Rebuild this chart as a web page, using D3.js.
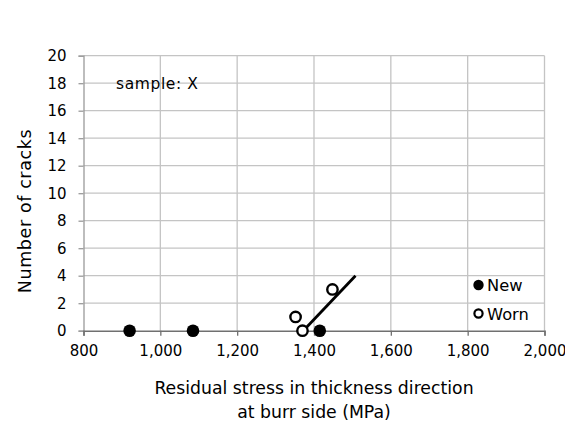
<!DOCTYPE html>
<html>
<head>
<meta charset="utf-8">
<script src="https://cdn.jsdelivr.net/npm/d3@7"></script>
<style>
  html, body { margin: 0; padding: 0; background: #fff; }
  svg { display: block; font-family: "DejaVu Sans", Verdana, sans-serif; }
</style>
</head>
<body>
<svg id="chart" width="565" height="422"></svg>
<script>
// Crack count against residual stress (thickness direction, burr side)
const newStress = [920, 1085, 1415];
const newCracks = [0, 0, 0];
const wornStress = [1352, 1370, 1448];
const wornCracks = [1, 0, 3];
// Fitted line for the worn tool, given by its two end points
const trendStress = [1369, 1508];
const trendCracks = [-0.1, 4];
const xTicks = [800, 1000, 1200, 1400, 1600, 1800, 2000];
const yTicks = [0, 2, 4, 6, 8, 10, 12, 14, 16, 18, 20];
const seriesNames = ["New", "Worn"];
const annotation = "sample: X";
const xTitle = ["Residual stress in thickness direction", "at burr side (MPa)"];
const yTitle = "Number of cracks";

const svg = d3.select("#chart");
const x = d3.scaleLinear().domain([800, 2000]).range([83.5, 544.5]);
const y = d3.scaleLinear().domain([0, 20]).range([330.7, 55.7]);
const fmt = d3.format(",");
const ink = "#000";

// Gridlines
const grid = svg.append("g");
grid.selectAll("line.h").data(yTicks.filter(d => d > 0)).join("line")
  .attr("x1", x(800)).attr("x2", x(2000))
  .attr("y1", d => y(d)).attr("y2", d => y(d))
  .attr("stroke", "#c4c4c4").attr("stroke-width", 1.3);
grid.selectAll("line.v").data(xTicks.filter(d => d > 800)).join("line")
  .attr("x1", d => x(d)).attr("x2", d => x(d))
  .attr("y1", y(0)).attr("y2", y(20))
  .attr("stroke", "#c4c4c4").attr("stroke-width", 1.3);

// Y axis
const yAxis = svg.append("g")
  .attr("transform", `translate(${x(800)},0)`)
  .call(d3.axisLeft(y).tickValues(yTicks).tickSize(5).tickPadding(12));
yAxis.select(".domain").attr("stroke", "#9a9a9a").attr("stroke-width", 1.3);
yAxis.selectAll(".tick line").attr("stroke", "#9a9a9a").attr("stroke-width", 1.3);
yAxis.selectAll(".tick text").attr("font-size", 15).attr("fill", ink)
  .attr("font-family", "DejaVu Sans, Verdana, sans-serif");

// X axis
const xAxis = svg.append("g")
  .attr("transform", `translate(0,${y(0)})`)
  .call(d3.axisBottom(x).tickValues(xTicks).tickFormat(fmt).tickSize(5).tickPadding(10));
xAxis.select(".domain").attr("stroke", "#707070").attr("stroke-width", 1.5);
xAxis.selectAll(".tick line").attr("stroke", "#707070").attr("stroke-width", 1.3);
xAxis.selectAll(".tick text").attr("font-size", 15).attr("fill", ink)
  .attr("font-family", "DejaVu Sans, Verdana, sans-serif");

// Trend line for worn tool
svg.append("path")
  .datum(trendStress.map((s, i) => [s, trendCracks[i]]))
  .attr("d", d3.line().x(d => x(d[0])).y(d => y(d[1])))
  .attr("stroke", ink).attr("stroke-width", 2.8).attr("fill", "none");

// New tool: filled markers
svg.append("g").selectAll("circle")
  .data(newStress.map((s, i) => [s, newCracks[i]])).join("circle")
  .attr("cx", d => x(d[0])).attr("cy", d => y(d[1])).attr("r", 6.3)
  .attr("fill", ink);

// Worn tool: open markers
svg.append("g").selectAll("circle")
  .data(wornStress.map((s, i) => [s, wornCracks[i]])).join("circle")
  .attr("cx", d => x(d[0])).attr("cy", d => y(d[1])).attr("r", 5.2)
  .attr("fill", "#fff").attr("stroke", ink).attr("stroke-width", 2.4);

// Legend
const legend = svg.append("g");
const legendY = [285, 313.5];
seriesNames.forEach((name, i) => {
  const g = legend.append("g").attr("transform", `translate(478.5,${legendY[i]})`);
  if (i === 0) {
    g.append("circle").attr("r", 5.2).attr("fill", ink);
  } else {
    g.append("circle").attr("r", 4.1).attr("fill", "#fff")
      .attr("stroke", ink).attr("stroke-width", 2.2);
  }
  g.append("text").attr("x", 8.5).attr("y", 6.3).attr("font-size", 16.3)
    .attr("fill", ink).text(name);
});

// Annotation
svg.append("text").attr("x", 116).attr("y", 89)
  .attr("font-size", 15.5).attr("letter-spacing", 0.6).attr("fill", ink)
  .text(annotation);

// Axis titles
const xt = svg.append("text").attr("text-anchor", "middle")
  .attr("font-size", 17.3).attr("fill", ink);
xt.append("tspan").attr("x", 314).attr("y", 394).text(xTitle[0]);
xt.append("tspan").attr("x", 314).attr("y", 417.5).text(xTitle[1]);

svg.append("text")
  .attr("transform", "translate(31,211) rotate(-90)")
  .attr("text-anchor", "middle").attr("font-size", 17.5)
  .attr("letter-spacing", 0.6).attr("fill", ink)
  .text(yTitle);
</script>
</body>
</html>
